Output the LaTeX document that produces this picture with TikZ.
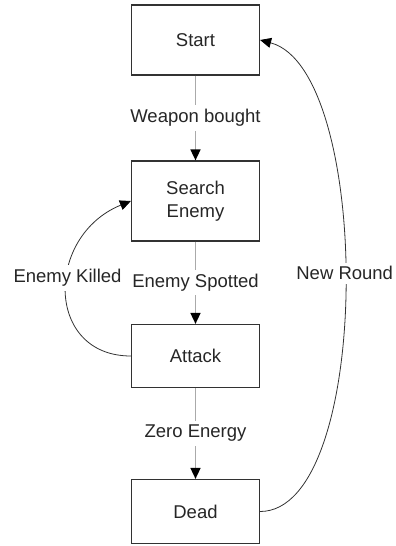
\documentclass[tikz,border=0pt]{standalone}
\usepackage{fontspec}
\setmainfont{Liberation Sans}
\usetikzlibrary{arrows.meta}
\definecolor{boxgray}{RGB}{50, 50, 50}
\definecolor{linegray}{RGB}{170, 170, 170}

\begin{document}
\begin{tikzpicture}[x=1pt, y=1pt, >={Triangle[length=11pt, width=10pt, color=black]},
    every node/.style={font=\fontsize{18.5}{23}\selectfont, text=black!85},
    state/.style={draw=boxgray, line width=1.2pt, minimum width=128pt, align=center},
    trans/.style={->, linegray, line width=1.6pt},
    loopback/.style={->, boxgray, line width=0.8pt},
    tlabel/.style={fill=white, inner xsep=1pt, inner ysep=4pt}]
    \useasboundingbox (0, 0) rectangle (396, -546);
    \node[state, minimum height=70pt] (start) at (195.5, -40) {Start};
    \node[state, minimum height=80pt] (search) at (195.5, -201) {Search\\Enemy};
    \node[state, minimum height=63pt] (attack) at (195.5, -356) {Attack};
    \node[state, minimum height=64pt] (dead) at (195.5, -511.5) {Dead};
    \draw[trans] (start) -- node[tlabel] {Weapon bought} (search);
    \draw[trans] (search) -- node[tlabel] {Enemy Spotted} (attack);
    \draw[trans] (attack) -- node[tlabel] {Zero Energy} (dead);
    \draw[loopback] (attack.west) .. controls +(-86, 0) and +(-86, -35) .. node[tlabel, pos=0.565] {Enemy Killed} (search.west);
    \draw[loopback] (dead.east) .. controls +(113, 0) and +(113, -30) .. node[tlabel, pos=0.52] {New Round} (start.east);
  \end{tikzpicture}
\end{document}
